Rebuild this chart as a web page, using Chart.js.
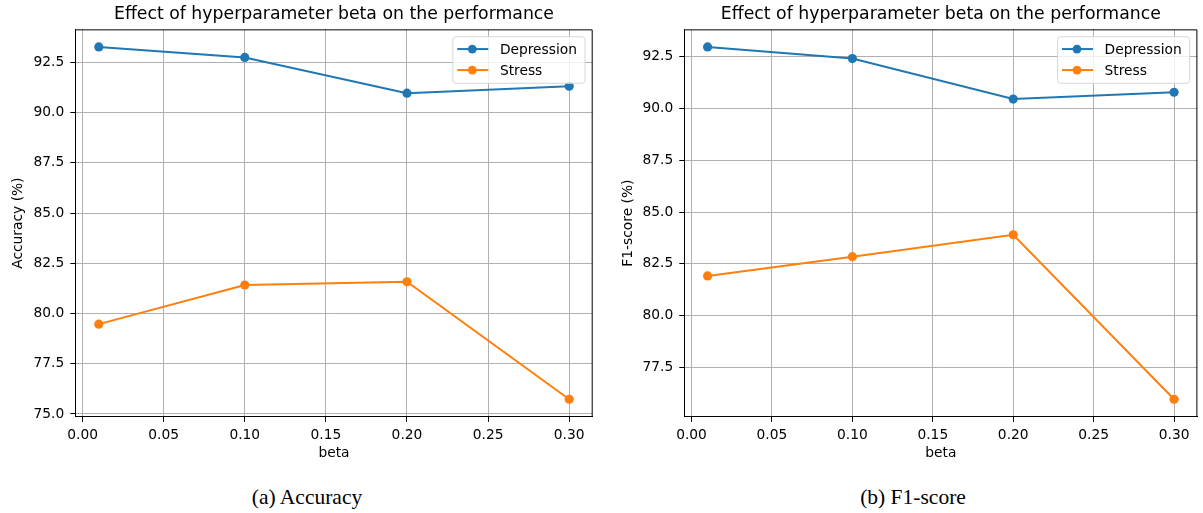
<!DOCTYPE html>
<html>
<head>
<meta charset="utf-8">
<script src="https://cdn.jsdelivr.net/npm/chart.js@4.4.1/dist/chart.umd.min.js"></script>
<style>
  html, body { margin: 0; padding: 0; background: #fff; }
  body { width: 1203px; height: 513px; position: relative; overflow: hidden; }
  .panel { position: absolute; top: 0; width: 601px; height: 470px; }
  .caption { position: absolute; top: 484px; width: 300px; text-align: center; line-height: 26px;
             font-family: "Liberation Serif", "Times New Roman", serif; font-size: 21.5px; color: #000; }
</style>
</head>
<body>
<div class="panel" style="left:0"><canvas id="chartAcc"></canvas></div>
<div class="panel" style="left:601px"><canvas id="chartF1"></canvas></div>
<div class="caption" style="left:157px">(a) Accuracy</div>
<div class="caption" style="left:763px">(b) F1-score</div>

<script>
// data
const betas = [0.01, 0.1, 0.2, 0.3];
const accDepression = [93.27, 92.75, 90.97, 91.32];
const accStress = [79.47, 81.42, 81.58, 75.73];
const f1Depression = [92.95, 92.39, 90.44, 90.77];
const f1Stress = [81.92, 82.85, 83.90, 75.98];

const xTicks = [0.00, 0.05, 0.10, 0.15, 0.20, 0.25, 0.30];
const accTicks = [75.0, 77.5, 80.0, 82.5, 85.0, 87.5, 90.0, 92.5];
const f1Ticks = [77.5, 80.0, 82.5, 85.0, 87.5, 90.0, 92.5];

const titleText = "Effect of hyperparameter beta on the performance";
const FONT = "'DejaVu Sans', sans-serif";
const FS = 13.8;
const BLUE = "#1f77b4";
const ORANGE = "#ff7f0e";

// matplotlib style 5% margins
function padRange(vals) {
    const lo = Math.min(...vals), hi = Math.max(...vals);
    const m = (hi - lo) * 0.05;
    return [lo - m, hi + m];
}

// top/right spines + legend box in upper right
const framePlugin = {
    id: "frame",
    afterDraw(chart) {
        const { ctx, chartArea: a } = chart;
        ctx.save();
        ctx.strokeStyle = "#000";
        ctx.lineWidth = 1;
        ctx.beginPath();
        ctx.moveTo(a.left, a.top + 0.5);
        ctx.lineTo(a.right - 0.5, a.top + 0.5);
        ctx.lineTo(a.right - 0.5, a.bottom);
        ctx.stroke();

        ctx.font = FS + "px " + FONT;
        const sets = chart.data.datasets;
        const tw = Math.max(...sets.map(d => ctx.measureText(d.label).width));
        const w = 47 + tw + 8;
        const h = 46.5;
        const x0 = a.right - 7.7 - w;
        const y0 = a.top + 7.4;
        ctx.beginPath();
        ctx.roundRect(x0, y0, w, h, 3);
        ctx.fillStyle = "rgba(255,255,255,0.8)";
        ctx.fill();
        ctx.strokeStyle = "#d6d6d6";
        ctx.lineWidth = 1;
        ctx.stroke();
        sets.forEach((d, i) => {
            const yy = y0 + 12.3 + i * 21;
            ctx.strokeStyle = d.borderColor;
            ctx.lineWidth = 2;
            ctx.beginPath();
            ctx.moveTo(x0 + 4.4, yy);
            ctx.lineTo(x0 + 35.4, yy);
            ctx.stroke();
            ctx.fillStyle = d.borderColor;
            ctx.beginPath();
            ctx.arc(x0 + 19.4, yy, 4.4, 0, Math.PI * 2);
            ctx.fill();
            ctx.fillStyle = "#000";
            ctx.textBaseline = "middle";
            ctx.fillText(d.label, x0 + 47, yy + 1);
        });
        ctx.restore();
    }
};

function makeChart(id, yLabel, dep, str, yTicks, yTitlePad, padRight) {
    const [ymin, ymax] = padRange(dep.concat(str));
    const [xmin, xmax] = padRange(betas);
    const tickFont = { family: FONT, size: FS };
    const line = (label, vals, color) => ({
        label: label,
        data: betas.map((b, i) => ({ x: b, y: vals[i] })),
        borderColor: color,
        backgroundColor: color,
        borderWidth: 2,
        pointRadius: 4.6,
        pointBorderWidth: 0,
        pointBackgroundColor: color,
        tension: 0,
        fill: false,
    });
    return new Chart(document.getElementById(id), {
        type: "line",
        data: {
            datasets: [line("Depression", dep, BLUE), line("Stress", str, ORANGE)],
        },
        options: {
            responsive: true,
            maintainAspectRatio: false,
            animation: false,
            devicePixelRatio: 1,
            layout: { padding: { left: 0, right: padRight, top: 0, bottom: 8 } },
            plugins: {
                legend: { display: false },
                tooltip: { enabled: false },
                title: {
                    display: true,
                    fullSize: false,
                    text: titleText,
                    color: "#000",
                    font: { family: FONT, size: 17.3, weight: "normal" },
                    padding: { top: 4.6, bottom: 4.0 },
                },
            },
            scales: {
                x: {
                    type: "linear",
                    min: xmin,
                    max: xmax,
                    afterBuildTicks: (s) => { s.ticks = xTicks.map(v => ({ value: v })); },
                    ticks: {
                        callback: (v) => v.toFixed(2),
                        color: "#000",
                        font: tickFont,
                        maxRotation: 0,
                        autoSkip: false,
                        padding: 5,
                    },
                    grid: { color: "#b0b0b0", lineWidth: 1, tickColor: "#000", tickLength: 5 },
                    border: { color: "#000", width: 1 },
                    title: { display: true, text: "beta", color: "#000", font: tickFont, padding: { top: -3, bottom: 0 } },
                },
                y: {
                    type: "linear",
                    min: ymin,
                    max: ymax,
                    afterBuildTicks: (s) => { s.ticks = yTicks.map(v => ({ value: v })); },
                    ticks: {
                        callback: (v) => v.toFixed(1),
                        color: "#000",
                        font: tickFont,
                        autoSkip: false,
                        padding: 6,
                    },
                    grid: { color: "#b0b0b0", lineWidth: 1, tickColor: "#000", tickLength: 5 },
                    border: { color: "#000", width: 1 },
                    title: { display: true, text: yLabel, color: "#000", font: tickFont, padding: yTitlePad },
                },
            },
        },
        plugins: [framePlugin],
    });
}

makeChart("chartAcc", "Accuracy (%)", accDepression, accStress, accTicks, { top: 10, bottom: 1 }, 8.3);
makeChart("chartF1", "F1-score (%)", f1Depression, f1Stress, f1Ticks, { top: 18.7, bottom: 0.3 }, 0.5);
</script>
</body>
</html>
